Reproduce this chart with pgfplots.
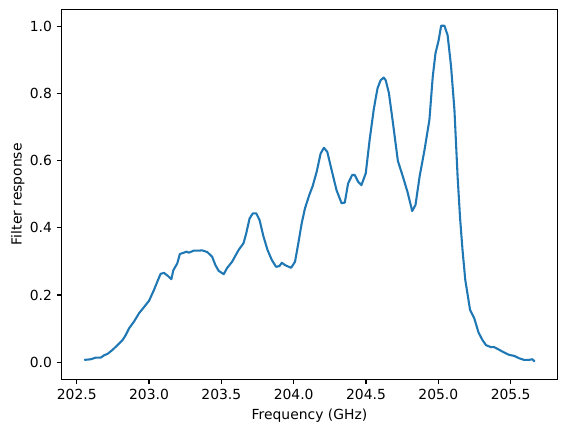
\documentclass[border=0pt]{standalone}
\usepackage{fontspec}
\setmainfont{DejaVu Sans}
\usepackage{pgfplots}
\pgfplotsset{compat=1.18}
\definecolor{tabblue}{HTML}{1F77B4}

\pgfplotstableread{
f r
202.552 0.007
202.598 0.009
202.633 0.014
202.667 0.014
202.690 0.021
202.713 0.025
202.748 0.037
202.782 0.051
202.817 0.066
202.839 0.081
202.862 0.101
202.896 0.121
202.931 0.146
202.965 0.164
203.000 0.183
203.034 0.215
203.062 0.245
203.080 0.263
203.103 0.266
203.130 0.257
203.154 0.247
203.168 0.274
203.195 0.294
203.213 0.322
203.241 0.326
203.259 0.329
203.275 0.326
203.309 0.332
203.344 0.332
203.367 0.333
203.402 0.328
203.436 0.314
203.459 0.289
203.481 0.272
203.516 0.262
203.539 0.280
203.574 0.299
203.619 0.334
203.653 0.354
203.672 0.384
203.695 0.428
203.718 0.443
203.741 0.443
203.764 0.423
203.791 0.374
203.819 0.334
203.849 0.304
203.878 0.284
203.901 0.286
203.918 0.296
203.940 0.289
203.982 0.281
204.009 0.299
204.032 0.354
204.055 0.413
204.078 0.458
204.108 0.498
204.131 0.524
204.159 0.567
204.186 0.621
204.209 0.638
204.232 0.626
204.262 0.572
204.296 0.512
204.331 0.473
204.353 0.475
204.376 0.532
204.404 0.557
204.422 0.557
204.445 0.537
204.468 0.527
204.498 0.562
204.525 0.662
204.553 0.751
204.567 0.786
204.580 0.816
204.601 0.839
204.622 0.847
204.636 0.839
204.658 0.801
204.686 0.712
204.720 0.599
204.755 0.552
204.787 0.506
204.819 0.450
204.842 0.468
204.870 0.552
204.904 0.631
204.938 0.721
204.961 0.849
204.980 0.919
205.002 0.958
205.019 1.001
205.042 1.001
205.064 0.973
205.088 0.879
205.111 0.751
205.133 0.552
205.150 0.429
205.167 0.334
205.186 0.245
205.219 0.156
205.248 0.131
205.278 0.088
205.305 0.066
205.329 0.051
205.363 0.045
205.386 0.045
205.421 0.037
205.455 0.029
205.489 0.022
205.524 0.019
205.558 0.012
205.592 0.007
205.627 0.007
205.649 0.009
205.666 0.002
}\response

\begin{document}
\begin{tikzpicture}
\begin{axis}[
    scale only axis,
    width=356.8pt, height=266.2pt,
    xmin=202.396, xmax=205.822,
    ymin=-0.05, ymax=1.05,
    xtick={202.5,203.0,203.5,204.0,204.5,205.0,205.5},
    ytick={0,0.2,0.4,0.6,0.8,1.0},
    scaled x ticks=false,
    xticklabel style={/pgf/number format/.cd, fixed, fixed zerofill, precision=1, use period, 1000 sep={}},
    yticklabel style={/pgf/number format/.cd, fixed, fixed zerofill, precision=1},
    /pgf/number format/assume math mode=true,
    tick label style={font=\fontsize{10}{12}\selectfont},
    label style={font=\fontsize{10}{12}\selectfont},
    tick align=outside,
    tick pos=left,
    major tick length=3.5pt,
    every tick/.style={black, line width=0.8pt},
    axis line style={line width=0.8pt},
    xlabel={Frequency (GHz)},
    ylabel={Filter response},
    ylabel shift=-3pt,
]
\addplot[tabblue, line width=1.5pt, line join=round] table[x=f, y=r] {\response};
\end{axis}
\path ([shift={(-44.4pt,-38.2pt)}]current axis.south west) rectangle ([shift={(7pt,6.7pt)}]current axis.north east);
\end{tikzpicture}
\end{document}
